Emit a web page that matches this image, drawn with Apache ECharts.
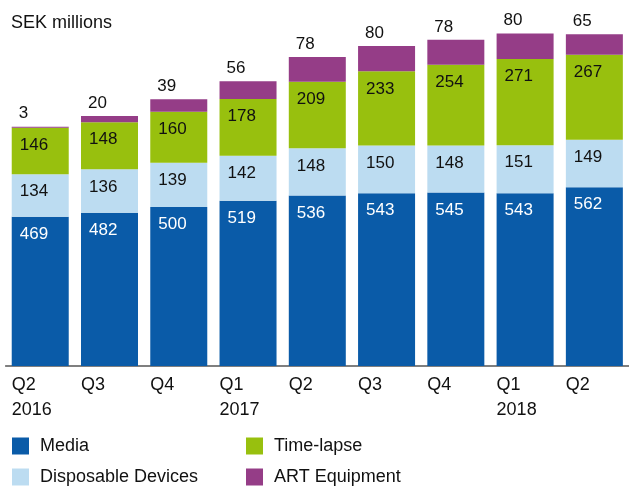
<!DOCTYPE html>
<html><head><meta charset="utf-8">
<script src="https://cdn.jsdelivr.net/npm/echarts@6/dist/echarts.min.js"></script>
<style>html,body{margin:0;padding:0;background:#fff}#c{width:629px;height:488px}</style>
</head><body><div id="c"></div>
<script>
const categories = ['Q2\n2016','Q3','Q4','Q1\n2017','Q2','Q3','Q4','Q1\n2018','Q2'];
const media = [469,482,500,519,536,543,545,543,562];
const disposable = [134,136,139,142,148,150,148,151,149];
const timelapse = [146,148,160,178,209,233,254,271,267];
const art = [3,20,39,56,78,80,78,80,65];
const seriesNames = ['Media','Disposable Devices','Time-lapse','ART Equipment'];
const colors = ['#0a5ba8','#bcdcf1','#98c00e','#953d87'];

const FONT = '"Liberation Sans", Arial, sans-serif';
const chart = echarts.init(document.getElementById('c'), null, {renderer:'canvas'});
function inLabel(color){
  return {show:true, position:[8,9], align:'left', verticalAlign:'top',
    color:color, fontSize:17, fontFamily:FONT};
}
chart.setOption({
  animation:false,
  title:{text:'SEK millions', left:11, top:14, padding:0, textStyle:{fontSize:18, fontWeight:'normal', color:'#111', fontFamily:FONT}},
  grid:{left:5.6, width:627.75, top:16, bottom:122, containLabel:false},
  legend:[
    {data:['Media','Disposable Devices'], orient:'vertical', left:12, top:437, padding:0,
     itemWidth:17, itemHeight:17, itemGap:13, icon:'rect',
     textStyle:{fontSize:18, color:'#111', fontFamily:FONT, padding:[0,0,0,6]}},
    {data:['Time-lapse','ART Equipment'], orient:'vertical', left:246, top:437, padding:0,
     itemWidth:17, itemHeight:17, itemGap:13, icon:'rect',
     textStyle:{fontSize:18, color:'#111', fontFamily:FONT, padding:[0,0,0,6]}}
  ],
  xAxis:{type:'category', data:categories,
    axisLine:{lineStyle:{color:'#555', width:1.5}}, axisTick:{show:false},
    axisLabel:{interval:0, margin:7, align:'center', verticalAlign:'top',
      formatter:v=>'{a|'+v+'}',
      rich:{a:{width:57, align:'left', fontSize:18, lineHeight:25, color:'#111', fontFamily:FONT}}}},
  yAxis:{type:'value', min:0, max:1100, show:false, splitLine:{show:false}},
  series:[
    {name:seriesNames[0], type:'bar', stack:'s', data:media, barWidth:57, itemStyle:{color:colors[0]}, label:inLabel('#fff')},
    {name:seriesNames[1], type:'bar', stack:'s', data:disposable, itemStyle:{color:colors[1]}, label:inLabel('#111')},
    {name:seriesNames[2], type:'bar', stack:'s', data:timelapse, itemStyle:{color:colors[2]}, label:inLabel('#111')},
    {name:seriesNames[3], type:'bar', stack:'s', data:art, itemStyle:{color:colors[3]},
     label:{show:true, position:[7,-13], align:'left', verticalAlign:'middle', color:'#111', fontSize:17, fontFamily:FONT}}
  ]
});
</script></body></html>
